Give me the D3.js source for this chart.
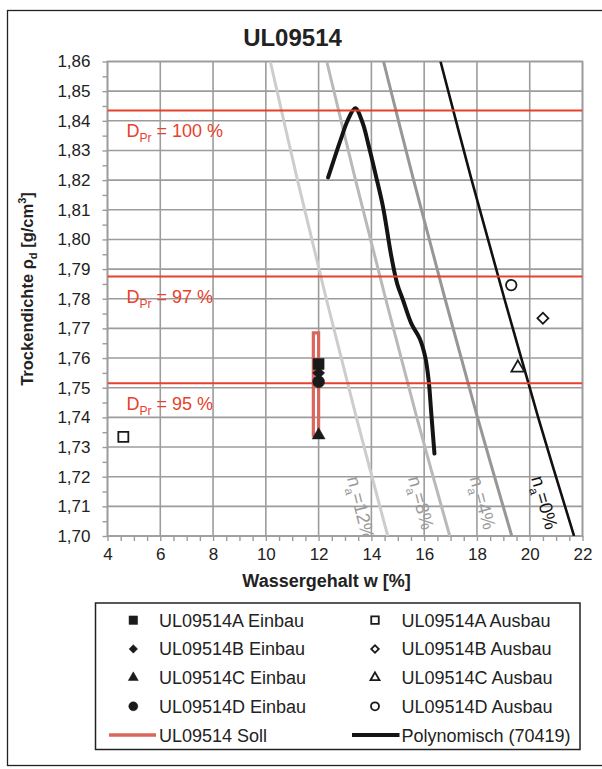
<!DOCTYPE html>
<html>
<head>
<meta charset="utf-8">
<script src="https://cdn.jsdelivr.net/npm/d3@7"></script>
<style>
  body { margin: 0; background: #fff; font-family: "Liberation Sans", Arial, sans-serif; }
</style>
</head>
<body>
<script>
// ---- data ----
const xTicks = [4, 6, 8, 10, 12, 14, 16, 18, 20, 22];
const yTicks = [1.70, 1.71, 1.72, 1.73, 1.74, 1.75, 1.76, 1.77, 1.78, 1.79, 1.80, 1.81, 1.82, 1.83, 1.84, 1.85, 1.86];

const einbauNames = ['UL09514A Einbau', 'UL09514B Einbau', 'UL09514C Einbau', 'UL09514D Einbau'];
const ausbauNames = ['UL09514A Ausbau', 'UL09514B Ausbau', 'UL09514C Ausbau', 'UL09514D Ausbau'];
const einbauW = [12, 12, 12, 12];
const einbauRho = [1.758, 1.755, 1.734, 1.752];
const ausbauW = [4.6, 20.5, 19.55, 19.3];
const ausbauRho = [1.7334, 1.7734, 1.7567, 1.7846];

const sollW = [11.8, 11.8, 12.0, 12.0, 11.8];
const sollRho = [1.7335, 1.7685, 1.7685, 1.7335, 1.7335];

const polyW = [12.36, 12.83, 13.12, 13.39, 13.66, 13.9, 14.17, 14.44, 14.76, 14.98, 15.2, 15.51, 15.83, 16.04, 16.17, 16.27, 16.39];
const polyRho = [1.8209, 1.8335, 1.8405, 1.8442, 1.8395, 1.8315, 1.8215, 1.811, 1.7941, 1.785, 1.7795, 1.7717, 1.7666, 1.7604, 1.7525, 1.7413, 1.7278];

const proctorLabels = ['100', '97', '95'];
const proctorRho = [1.8435, 1.7875, 1.7515];

const voidLabels = ['12', '8', '4', '0'];
const voidRho = [1.86, 1.82, 1.78, 1.74, 1.70];
const void12W = [10.17, 11.20, 12.29, 13.43, 14.62];
const void8W = [12.31, 13.40, 14.54, 15.72, 16.97];
const void4W = [14.46, 15.60, 16.79, 18.02, 19.32];
const void0W = [16.62, 17.80, 19.04, 20.32, 21.68];

// ---- layout ----
let width = 602, height = 769;
let plotLeft = 107.5, plotRight = 582.5, plotTop = 61.5, plotBottom = 536;
let fontFam = '"Liberation Sans", Arial, sans-serif';

let xScale = d3.scaleLinear().domain([4, 22]).range([plotLeft, plotRight]);
let yScale = d3.scaleLinear().domain([1.70, 1.86]).range([plotBottom, plotTop]);

let deLocale = d3.formatLocale({decimal: ',', thousands: '.', grouping: [3], currency: ['', ' €']});
let fmt2 = deLocale.format('.2f');

var svg = d3.select('body').append('svg')
  .attr('width', width)
  .attr('height', height)
  .style('font-family', fontFam);

// outer frame
svg.append('rect')
  .attr('x', 7.5).attr('y', 10.5)
  .attr('width', 610).attr('height', 755)
  .attr('fill', 'none').attr('stroke', '#222').attr('stroke-width', 1.3);

svg.append('defs').append('clipPath').attr('id', 'plotclip')
  .append('rect').attr('x', plotLeft).attr('y', plotTop)
  .attr('width', plotRight - plotLeft).attr('height', plotBottom - plotTop);

// gridlines
var grid = svg.append('g').attr('stroke', '#9c9c9c').attr('stroke-width', 1.6);
grid.selectAll('line.v').data(xTicks).enter().append('line')
  .attr('x1', d => xScale(d)).attr('x2', d => xScale(d))
  .attr('y1', plotTop).attr('y2', plotBottom);
grid.selectAll('line.h').data(yTicks).enter().append('line')
  .attr('y1', d => yScale(d)).attr('y2', d => yScale(d))
  .attr('x1', plotLeft).attr('x2', plotRight);

// axes (ticks + labels)
let xMinor = d3.range(8, 45).map(d => d / 2);
let yMinor = d3.range(340, 373).map(d => d / 200);

var xAxisG = svg.append('g').attr('transform', 'translate(0,' + plotBottom + ')')
  .call(d3.axisBottom(xScale).tickValues(xMinor).tickSize(5).tickFormat(''));
var xLab = svg.append('g').attr('transform', 'translate(0,' + plotBottom + ')')
  .call(d3.axisBottom(xScale).tickValues(xTicks).tickSize(0).tickPadding(12).tickFormat(d => d));
var yAxisG = svg.append('g').attr('transform', 'translate(' + plotLeft + ',0)')
  .call(d3.axisLeft(yScale).tickValues(yMinor).tickSize(5).tickFormat(''));
var yLab = svg.append('g').attr('transform', 'translate(' + plotLeft + ',0)')
  .call(d3.axisLeft(yScale).tickValues(yTicks).tickSize(0).tickPadding(17).tickFormat(d => fmt2(d)));

[xAxisG, xLab, yAxisG, yLab].forEach(g => {
  g.select('.domain').remove();
  g.selectAll('line').attr('stroke', '#9c9c9c').attr('stroke-width', 1.4);
  g.selectAll('text').attr('font-family', fontFam).attr('font-size', 17).attr('fill', '#222');
});

// plot border
svg.append('rect')
  .attr('x', plotLeft).attr('y', plotTop)
  .attr('width', plotRight - plotLeft).attr('height', plotBottom - plotTop)
  .attr('fill', 'none').attr('stroke', '#9c9c9c').attr('stroke-width', 1.6);

var plot = svg.append('g').attr('clip-path', 'url(#plotclip)');

// air-void lines
let voidSeries = [void12W, void8W, void4W, void0W];
let voidColors = ['#cdcdcd', '#b9b9b9', '#979797', '#111'];
let voidWidths = [3, 3, 3, 2.6];
let voidLine = d3.line().curve(d3.curveCatmullRom)
  .x(d => xScale(d[0])).y(d => yScale(d[1]));

voidSeries.forEach((ws, i) => {
  let pts = ws.map((w, j) => [w, voidRho[j]]);
  plot.append('path').datum(pts)
    .attr('d', voidLine)
    .attr('fill', 'none')
    .attr('stroke', voidColors[i])
    .attr('stroke-width', voidWidths[i]);

  // label placed beside the line, rotated along it
  let labRho = 1.7202;
  let wAt = d3.scaleLinear().domain(voidRho).range(ws)(labRho);
  let px = xScale(wAt) - 25, py = yScale(labRho) + 2;
  let ang = Math.atan2(yScale(voidRho[4]) - yScale(voidRho[0]), xScale(ws[4]) - xScale(ws[0])) * 180 / Math.PI;
  let t = plot.append('text')
    .attr('transform', 'translate(' + px + ',' + py + ') rotate(' + ang + ')')
    .attr('font-size', 18.5)
    .attr('fill', i == 3 ? '#111' : '#9a9a9a');
  t.append('tspan').text('n');
  t.append('tspan').attr('font-size', 12).attr('dy', 5).text('a');
  t.append('tspan').attr('dy', -5).text('=' + voidLabels[i] + '%');
});

// polynomial trend
let polyPts = polyW.map((w, i) => [w, polyRho[i]]);
plot.append('path').datum(polyPts)
  .attr('d', voidLine)
  .attr('fill', 'none')
  .attr('stroke', '#141414')
  .attr('stroke-width', 4)
  .attr('stroke-linecap', 'round')
  .attr('stroke-linejoin', 'round');

// Proctor density lines
proctorRho.forEach((r, i) => {
  plot.append('line')
    .attr('x1', plotLeft).attr('x2', plotRight)
    .attr('y1', yScale(r)).attr('y2', yScale(r))
    .attr('stroke', '#e8412b').attr('stroke-width', 2);
  let t = plot.append('text')
    .attr('x', 126.5).attr('y', yScale(r) + 26.5)
    .attr('font-size', 18).attr('fill', '#e8412b');
  t.append('tspan').text('D');
  t.append('tspan').attr('font-size', 12).attr('dy', 5).text('Pr');
  t.append('tspan').attr('dy', -5).text(' = ' + proctorLabels[i] + ' %');
});

// Soll
let sollPts = sollW.map((w, i) => [w, sollRho[i]]);
plot.append('path').datum(sollPts)
  .attr('d', d3.line().x(d => xScale(d[0])).y(d => yScale(d[1])))
  .attr('fill', 'none')
  .attr('stroke', '#d9675b')
  .attr('stroke-width', 3.2);

// markers
function shapePath(shape, size) {
  if (shape == 'square') return d3.symbol(d3.symbolSquare, size * size)();
  if (shape == 'diamond') return d3.symbol(d3.symbolSquare, size * size / 2)();
  if (shape == 'triangle') return d3.symbol(d3.symbolTriangle, size * size * 0.433)();
  return d3.symbol(d3.symbolCircle, Math.PI * size * size / 4)();
}
let shapes = ['square', 'diamond', 'triangle', 'circle'];
let einbauSize = [11, 12, 13, 12];
let ausbauSize = [10, 11, 13, 10.5];

function drawMarker(g, shape, x, y, size, filled) {
  g.append('path')
    .attr('d', shapePath(shape, size))
    .attr('transform', 'translate(' + x + ',' + y + ')' + (shape == 'diamond' ? ' rotate(45)' : ''))
    .attr('fill', filled ? '#1a1a1a' : '#fff')
    .attr('stroke', '#1a1a1a')
    .attr('stroke-width', filled ? 0.5 : 1.8);
}

[3, 1, 2, 0].forEach(i => {
  drawMarker(plot, shapes[i], xScale(einbauW[i]), yScale(einbauRho[i]), einbauSize[i], true);
});
ausbauW.forEach((w, i) => {
  drawMarker(plot, shapes[i], xScale(w), yScale(ausbauRho[i]), ausbauSize[i], false);
});

// titles
svg.append('text')
  .attr('x', 292.5).attr('y', 45.5)
  .attr('text-anchor', 'middle')
  .attr('font-size', 24).attr('font-weight', 'bold').attr('fill', '#222')
  .text('UL09514');

svg.append('text')
  .attr('x', 326.5).attr('y', 586.5)
  .attr('text-anchor', 'middle')
  .attr('font-size', 18).attr('font-weight', 'bold').attr('fill', '#222')
  .text('Wassergehalt w [%]');

var yt = svg.append('text')
  .attr('transform', 'translate(33,289) rotate(-90)')
  .attr('text-anchor', 'middle')
  .attr('font-size', 16.5).attr('font-weight', 'bold').attr('fill', '#222');
yt.append('tspan').text('Trockendichte ρ');
yt.append('tspan').attr('font-size', 11).attr('dy', 4).text('d');
yt.append('tspan').attr('dy', -4).text(' [g/cm');
yt.append('tspan').attr('font-size', 11).attr('dy', -7).text('3');
yt.append('tspan').attr('dy', 7).text(']');

// legend
var legend = svg.append('g');
legend.append('rect')
  .attr('x', 95.5).attr('y', 603)
  .attr('width', 484.5).attr('height', 146.5)
  .attr('fill', '#fff').attr('stroke', '#222').attr('stroke-width', 1.5);

let rowBase = [626.7, 655.4, 684.1, 712.8, 741.5];
let legendSize = [8.5, 8.5, 10, 9];

einbauNames.forEach((name, i) => {
  let cy = rowBase[i] - 6.5;
  drawMarker(legend, shapes[i], 133.3, cy, legendSize[i], true);
  legend.append('text').attr('x', 159).attr('y', rowBase[i])
    .attr('font-size', 18).attr('fill', '#222').text(name);
});
ausbauNames.forEach((name, i) => {
  let cy = rowBase[i] - 6.5;
  drawMarker(legend, shapes[i], 375, cy, legendSize[i] - 1, false);
  legend.append('text').attr('x', 401.5).attr('y', rowBase[i])
    .attr('font-size', 18).attr('fill', '#222').text(name);
});

legend.append('line')
  .attr('x1', 109).attr('x2', 156)
  .attr('y1', rowBase[4] - 6.5).attr('y2', rowBase[4] - 6.5)
  .attr('stroke', '#d9675b').attr('stroke-width', 3.5);
legend.append('text').attr('x', 159).attr('y', rowBase[4])
  .attr('font-size', 18).attr('fill', '#222').text('UL09514 Soll');

legend.append('line')
  .attr('x1', 352).attr('x2', 399.5)
  .attr('y1', rowBase[4] - 6.5).attr('y2', rowBase[4] - 6.5)
  .attr('stroke', '#141414').attr('stroke-width', 4);
legend.append('text').attr('x', 401.5).attr('y', rowBase[4])
  .attr('font-size', 18).attr('fill', '#222').text('Polynomisch (70419)');
</script>
</body>
</html>
